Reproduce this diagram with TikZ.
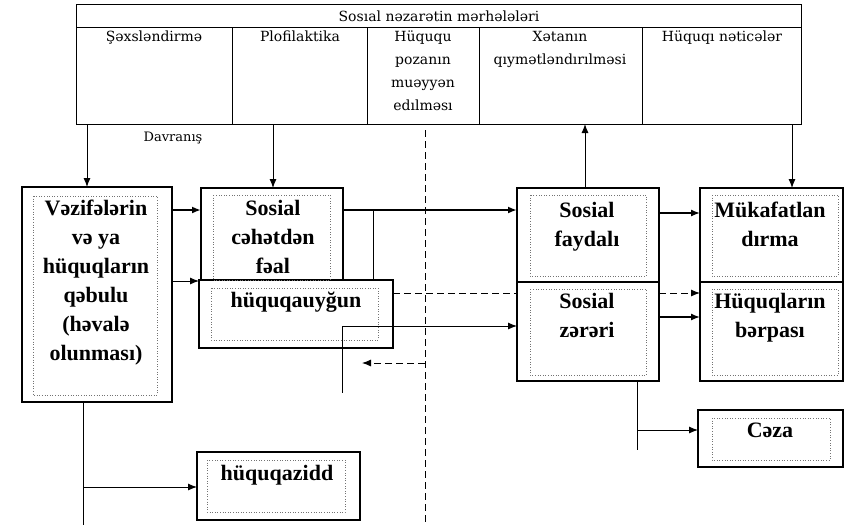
\documentclass[tikz,border=0pt]{standalone}
\usepackage{fontspec}
\setmainfont{Liberation Serif}
\newfontfamily\hdrfont{DejaVu Serif}
\usetikzlibrary{arrows.meta}
\tikzset{
  frame/.style={draw, line width=1.2pt, fill=white, inner sep=0pt, outer sep=0pt, anchor=north west},
  cell/.style={draw, line width=1pt, inner sep=0pt, outer sep=0pt, anchor=north west},
  inframe/.style={draw=black!55, dotted, line width=0.6pt},
  btxt/.style={font=\bfseries\fontsize{22}{29}\selectfont, align=center, inner sep=0pt, anchor=north},
  htxt/.style={font=\hdrfont\fontsize{14}{23}\selectfont, align=center, inner sep=0pt, anchor=north},
  arr/.style={-{Latex[length=9pt,width=7pt]}, line width=0.9pt},
  thk/.style={line width=2pt},
  dsh/.style={dash pattern=on 7pt off 4pt, line width=0.9pt},
}
\begin{document}
\begin{tikzpicture}[x=1pt,y=-1pt]
\useasboundingbox (0,0) rectangle (853,525);
% header table
\node[cell, minimum width=725pt, minimum height=23pt] (title) at (76,4) {};
\node[font=\hdrfont\fontsize{14}{16}\selectfont, inner sep=0pt] (titletxt) at (439,16) {Sosıal nəzarətin mərhələləri};
\node[cell, minimum width=156pt, minimum height=97pt] (c1) at (76,27) {};
\node[cell, minimum width=135pt, minimum height=97pt] (c2) at (232,27) {};
\node[cell, minimum width=112pt, minimum height=97pt] (c3) at (367,27) {};
\node[cell, minimum width=163pt, minimum height=97pt] (c4) at (479,27) {};
\node[cell, minimum width=159pt, minimum height=97pt] (c5) at (642,27) {};
\node[htxt] (t1) at (154,31) {Şəxsləndirmə};
\node[htxt] (t2) at (300,31) {Plofilaktika};
\node[htxt] (t3) at (423,31) {Hüququ\\pozanın\\muəyyən\\edılməsı};
\node[htxt] (t4) at (560,31) {Xətanın\\qıymətləndırılməsi};
\node[htxt] (t5) at (722,31) {Hüquqı nəticələr};
\node[font=\hdrfont\fontsize{13}{15}\selectfont, inner sep=0pt] (davr) at (173,138) {Davranış};

% boxes
\node[frame, minimum width=150pt, minimum height=215pt] (vez) at (22,187) {};
\node[frame, minimum width=142pt, minimum height=93pt] (soc) at (201,188) {};
\node[frame, minimum width=194pt, minimum height=68pt] (hqa) at (199,280) {};
\node[frame, minimum width=142pt, minimum height=94pt] (fay) at (517,188) {};
\node[frame, minimum width=142pt, minimum height=99pt] (zer) at (517,282) {};
\node[frame, minimum width=143pt, minimum height=94pt] (muk) at (700,188) {};
\node[frame, minimum width=143pt, minimum height=99pt] (hub) at (700,282) {};
\node[frame, minimum width=145pt, minimum height=57pt] (caza) at (698,410) {};
\node[frame, minimum width=163pt, minimum height=68pt] (hqz) at (197,452) {};

% inner dotted frames
\draw[inframe] (33,196) rectangle (157,395);
\draw[inframe] (213,195) rectangle (330,280);
\draw[inframe] (211,288) rectangle (378,340);
\draw[inframe] (530,195) rectangle (646,276);
\draw[inframe] (530,289) rectangle (646,375);
\draw[inframe] (712,195) rectangle (838,276);
\draw[inframe] (712,289) rectangle (838,375);
\draw[inframe] (712,418) rectangle (830,460);
\draw[inframe] (207,460) rectangle (345,512);

% box texts
\node[btxt] (vezt) at (96,200) {Vəzifələrin\\və ya\\hüquqların\\qəbulu\\(həvalə\\olunması)};
\node[btxt] (soct) at (273,200) {Sosial\\cəhətdən\\fəal};
\node[btxt] (hqat) at (296,292) {hüquqauyğun};
\node[btxt] (fayt) at (587,202) {Sosial\\faydalı};
\node[btxt] (zert) at (587,293) {Sosial\\zərəri};
\node[btxt] (mukt) at (770,202) {Mükafatlan\\dırma};
\node[btxt] (hubt) at (770,293) {Hüquqların\\bərpası};
\node[btxt] (cazat) at (770,423) {Cəza};
\node[btxt] (hqzt) at (277,465) {hüquqazidd};

% helper coordinates
\coordinate (x87) at (87,0);
\coordinate (x273) at (273,0);
\coordinate (x585) at (585,0);
\coordinate (x792) at (792,0);
\coordinate (x83) at (83,0);
\coordinate (x637) at (637,0);
\coordinate (x373) at (373,0);
\coordinate (y210) at (0,210);
\coordinate (y213) at (0,213);
\coordinate (y281) at (0,281);
\coordinate (y293) at (0,293);
\coordinate (y317) at (0,317);
\coordinate (y326) at (0,326);
\coordinate (y430) at (0,430);
\coordinate (y487) at (0,487);
\coordinate (vezend) at (83,525);
\coordinate (zerend) at (637,450);
\coordinate (dtop) at (425,130);
\coordinate (dbot) at (425,525);
\coordinate (dmid) at (425,363);
\coordinate (dtip) at (362,363);
\coordinate (stub1) at (342,326);
\coordinate (stub2) at (342,393);

% connectors from header
\draw[arr] (c1.south -| x87) -- (vez.north -| x87);
\draw[arr] (c2.south -| x273) -- (soc.north -| x273);
\draw[arr] (fay.north -| x585) -- (c4.south -| x585);
\draw[arr] (c5.south -| x792) -- (muk.north -| x792);

% horizontal flows
\draw[arr, thk] (vez.east |- y210) -- (soc.west |- y210);
\draw[arr] (vez.east |- y281) -- (hqa.west |- y281);
\draw[arr, thk] (soc.east |- y210) -- (fay.west |- y210);
\draw[line width=0.9pt] (x373 |- y210) -- (x373 |- hqa.north);
\draw[arr] (stub1) -- (zer.west |- y326);
\draw[line width=0.9pt] (stub1) -- (stub2);
\draw[dsh] (hqa.east |- y293) -- (zer.west |- y293);
\draw[dsh, -{Latex[length=9pt,width=7pt]}] (zer.east |- y293) -- (hub.west |- y293);
\draw[arr, line width=1.4pt] (fay.east |- y213) -- (muk.west |- y213);
\draw[arr, line width=1.4pt] (zer.east |- y317) -- (hub.west |- y317);

% lower branches
\draw[line width=0.9pt] (vez.south -| x83) -- (vezend);
\draw[arr] (x83 |- y487) -- (hqz.west |- y487);
\draw[line width=0.9pt] (zer.south -| x637) -- (zerend);
\draw[arr] (x637 |- y430) -- (caza.west |- y430);

% dashed divider
\draw[dsh] (dtop) -- (dbot);
\draw[dsh, -{Latex[length=9pt,width=7pt]}] (dmid) -- (dtip);
\end{tikzpicture}
\end{document}
